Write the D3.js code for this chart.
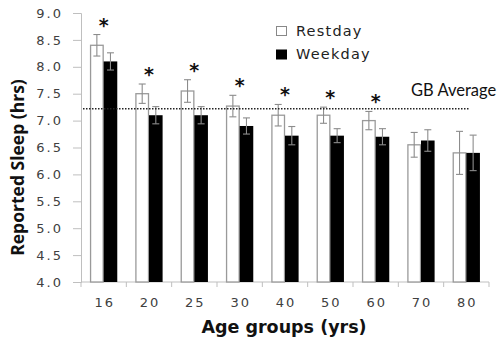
<!DOCTYPE html>
<html>
<head>
<meta charset="utf-8">
<script src="https://cdn.jsdelivr.net/npm/d3@7"></script>
<style>
  body { margin: 0; background: #fff; }
  svg { display: block; }
</style>
</head>
<body>
<svg id="chart"></svg>
<script>
// data
var ageGroups = ["16", "20", "25", "30", "40", "50", "60", "70", "80"];
var restday     = [8.40, 7.50, 7.55, 7.27, 7.10, 7.10, 7.00, 6.55, 6.40];
var restdayErr  = [0.20, 0.18, 0.21, 0.20, 0.20, 0.15, 0.17, 0.23, 0.40];
var weekday     = [8.10, 7.10, 7.10, 6.90, 6.72, 6.72, 6.70, 6.63, 6.40];
var weekdayErr  = [0.16, 0.16, 0.16, 0.15, 0.17, 0.13, 0.15, 0.20, 0.33];
var significant = [true, true, true, true, true, true, true, false, false];
var gbAverage = 7.22;
var yTicks = [4.0, 4.5, 5.0, 5.5, 6.0, 6.5, 7.0, 7.5, 8.0, 8.5, 9.0];

var W = 500, H = 341;
var margin = {top: 13, right: 11, bottom: 59, left: 81},
    width = W - margin.left - margin.right,
    height = H - margin.top - margin.bottom;

var svg = d3.select("#chart").attr("width", W).attr("height", H);
var g = svg.append("g").attr("transform", "translate(" + margin.left + "," + margin.top + ")");

var x = d3.scaleBand().domain(ageGroups).range([0, width]).paddingInner(0).paddingOuter(0);
var xs = d3.scaleBand().domain(["rest", "week"]).range([0, x.bandwidth() * 0.6]);
var groupOff = x.bandwidth() * 0.2;
var y = d3.scaleLinear().domain([4, 9]).range([height, 0]);

var axisColor = "#bfbfbf";
var tickFont = "DejaVu Sans, Verdana, sans-serif";
var tickColor = "#404040";

// y axis
var yAxis = g.append("g")
    .call(d3.axisLeft(y).tickValues(yTicks).tickFormat(d3.format(".1f")).tickSizeOuter(0).tickSize(8).tickPadding(10));
yAxis.select(".domain").attr("stroke", axisColor);
yAxis.selectAll(".tick line").attr("stroke", axisColor);
yAxis.selectAll("text").attr("fill", tickColor).style("font-family", tickFont)
    .style("font-size", "13px").style("letter-spacing", "2px");

// x axis with ticks at band edges
var xAxis = g.append("g").attr("transform", "translate(0," + height + ")");
xAxis.append("line").attr("x1", 0).attr("x2", width).attr("stroke", axisColor);
xAxis.selectAll(".xt").data(ageGroups.concat(["end"])).enter().append("line")
    .attr("x1", function (d, i) { return i * x.step(); })
    .attr("x2", function (d, i) { return i * x.step(); })
    .attr("y1", 0).attr("y2", 5).attr("stroke", axisColor);
xAxis.selectAll(".xl").data(ageGroups).enter().append("text")
    .attr("x", function (d) { return x(d) + x.bandwidth() / 2 + 1; })
    .attr("y", 25)
    .attr("text-anchor", "middle")
    .attr("fill", tickColor)
    .style("font-family", tickFont).style("font-size", "13px").style("letter-spacing", "2px")
    .text(function (d) { return d; });

// bars
var rows = ageGroups.map(function (a, i) {
    return {age: a, rest: restday[i], restErr: restdayErr[i], week: weekday[i], weekErr: weekdayErr[i], sig: significant[i]};
});

var grp = g.selectAll(".grp").data(rows).enter().append("g")
    .attr("transform", function (d) { return "translate(" + (x(d.age) + groupOff) + ",0)"; });

grp.append("rect")
    .attr("x", xs("rest") + 0.5)
    .attr("width", xs.bandwidth() - 1)
    .attr("y", function (d) { return y(d.rest); })
    .attr("height", function (d) { return height - y(d.rest); })
    .attr("fill", "#fff").attr("stroke", "#9a9a9a").attr("stroke-width", 1.3);

grp.append("rect")
    .attr("x", xs("week"))
    .attr("width", xs.bandwidth())
    .attr("y", function (d) { return y(d.week); })
    .attr("height", function (d) { return height - y(d.week); })
    .attr("fill", "#000");

// error bars
function errBar(sel, key, errKey, sub) {
    var cx = xs(sub) + xs.bandwidth() / 2;
    var eb = sel.append("g").attr("stroke", "#8c8c8c").attr("stroke-width", 1.1);
    eb.append("line").attr("x1", cx).attr("x2", cx)
        .attr("y1", function (d) { return y(d[key] + d[errKey]); })
        .attr("y2", function (d) { return y(d[key] - d[errKey]); });
    eb.append("line").attr("x1", cx - 3.5).attr("x2", cx + 3.5)
        .attr("y1", function (d) { return y(d[key] + d[errKey]); })
        .attr("y2", function (d) { return y(d[key] + d[errKey]); });
    eb.append("line").attr("x1", cx - 3.5).attr("x2", cx + 3.5)
        .attr("y1", function (d) { return y(d[key] - d[errKey]); })
        .attr("y2", function (d) { return y(d[key] - d[errKey]); });
}
errBar(grp, "rest", "restErr", "rest");
errBar(grp, "week", "weekErr", "week");

// significance stars
grp.filter(function (d) { return d.sig; }).append("text")
    .attr("x", xs.bandwidth())
    .attr("y", function (d) { return y(d.rest + d.restErr) - 3; })
    .attr("text-anchor", "middle")
    .style("font-family", "DejaVu Sans, sans-serif").style("font-size", "19px").style("font-weight", "bold")
    .attr("fill", "#111")
    .text("*");

// GB average line
g.append("line")
    .attr("x1", 2).attr("x2", 389)
    .attr("y1", y(gbAverage)).attr("y2", y(gbAverage))
    .attr("stroke", "#222").attr("stroke-width", 1.3).attr("stroke-dasharray", "1.5,1.5");
g.append("text")
    .attr("x", 330).attr("y", y(gbAverage) - 13)
    .style("font-family", "Lato, 'Open Sans', sans-serif").style("font-size", "16.5px")
    .attr("fill", "#111")
    .text("GB Average");

// legend
var legend = svg.append("g").attr("transform", "translate(276,26)");
var legItems = [{name: "Restday", fill: "#fff"}, {name: "Weekday", fill: "#000"}];
var li = legend.selectAll(".li").data(legItems).enter().append("g")
    .attr("transform", function (d, i) { return "translate(0," + (i * 23.5) + ")"; });
li.append("rect").attr("width", 10).attr("height", 9).attr("x", 0.5).attr("y", 0.5)
    .attr("fill", function (d) { return d.fill; }).attr("stroke", function (d, i) { return i ? "#000" : "#888"; });
li.append("text").attr("x", 20).attr("y", 9.5)
    .style("font-family", tickFont).style("font-size", "14.5px").style("letter-spacing", "1.2px")
    .attr("fill", "#222")
    .text(function (d) { return d.name; });

// axis titles
svg.append("text")
    .attr("transform", "translate(24," + (margin.top + height / 2 + 20) + ") rotate(-90)")
    .attr("text-anchor", "middle")
    .style("font-family", "'Open Sans', sans-serif").style("font-size", "17.5px").style("font-weight", "bold")
    .attr("fill", "#111")
    .text("Reported Sleep (hrs)");
svg.append("text")
    .attr("x", 284).attr("y", 333)
    .attr("text-anchor", "middle")
    .style("font-family", "DejaVu Sans, Verdana, sans-serif").style("font-size", "17.5px").style("font-weight", "bold")
    .attr("fill", "#111")
    .text("Age groups (yrs)");
</script>
</body>
</html>
